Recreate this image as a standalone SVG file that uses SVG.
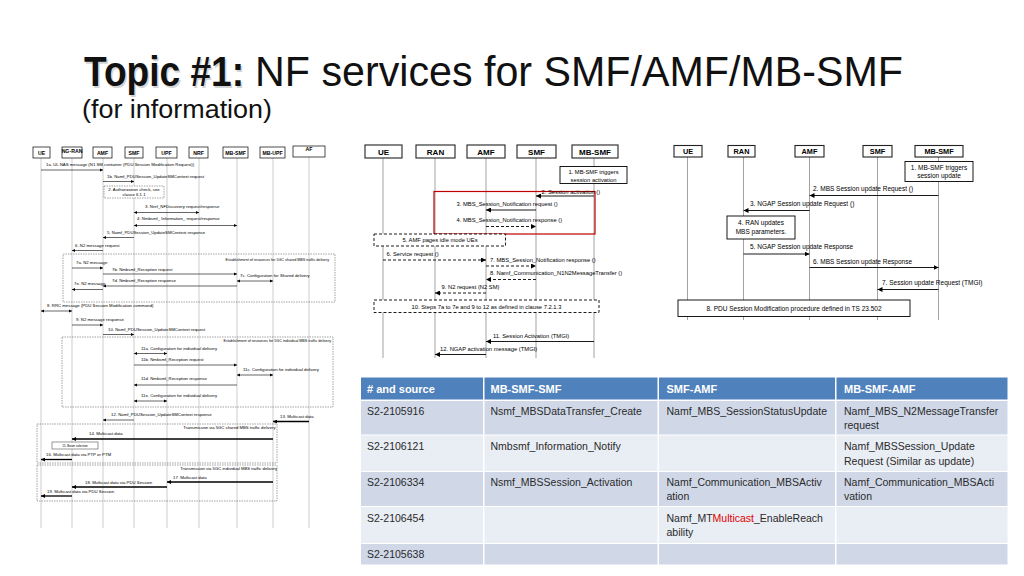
<svg xmlns="http://www.w3.org/2000/svg" width="1024" height="576" viewBox="0 0 1024 576">
<style>
text{font-family:"Liberation Sans",Arial,sans-serif;fill:#000}
.bg{fill:#fff}
.hb{fill:#fff;stroke:#000;stroke-width:0.7}
.hb2{fill:#fff;stroke:#222;stroke-width:1.1}
.ll{stroke:#999;stroke-width:0.5;fill:none}
.ll2{stroke:#999;stroke-width:0.9;fill:none}
.lh{font-size:5.2px;font-weight:bold;text-anchor:middle}
.mh{font-size:8px;font-weight:bold;text-anchor:middle}
.rh{font-size:7.3px;font-weight:bold;text-anchor:middle}
.lt{font-size:4.3px}
.lbl{font-size:3.7px}
.lbl2{font-size:4.2px}
.mt{font-size:5.8px}
.rt{font-size:6.5px}
.c{text-anchor:middle}
.e{text-anchor:end}
.m{stroke:#000;stroke-width:0.6;fill:none;marker-end:url(#as)}
.mb{stroke:#000;stroke-width:0.6;fill:none;marker-end:url(#as);marker-start:url(#as)}
.mk{stroke:#000;stroke-width:1.3;fill:none;marker-end:url(#ak)}
.m2{stroke:#000;stroke-width:0.9;fill:none;marker-end:url(#am)}
.m2d{stroke:#000;stroke-width:0.9;fill:none;stroke-dasharray:3 2;marker-end:url(#am)}
.db{fill:none;stroke:#444;stroke-width:0.5;stroke-dasharray:1.5 1}
.db2{fill:none;stroke:#000;stroke-width:0.9;stroke-dasharray:3 2}
.sb{fill:#fff;stroke:#000;stroke-width:0.9}
.th{fill:#4F81BD}
.td{fill:#D0D8E8}
.tl{fill:#E9EDF4}
.tt{font-size:10.5px;fill:#2a2a2a}
.tht{font-size:11px;font-weight:bold;fill:#fff}
</style>
<defs>
<marker id="as" viewBox="0 0 6 6" refX="6" refY="3" markerWidth="3.4" markerHeight="3.4" markerUnits="userSpaceOnUse" orient="auto-start-reverse"><path d="M0,0L6,3L0,6z" fill="#000"/></marker>
<marker id="ak" viewBox="0 0 6 6" refX="6" refY="3" markerWidth="4" markerHeight="4" markerUnits="userSpaceOnUse" orient="auto-start-reverse"><path d="M0,0L6,3L0,6z" fill="#000"/></marker>
<marker id="am" viewBox="0 0 6 6" refX="6" refY="3" markerWidth="5" markerHeight="5" markerUnits="userSpaceOnUse" orient="auto-start-reverse"><path d="M0,0L6,3L0,6z" fill="#000"/></marker>
</defs>
<rect class="bg" x="0" y="0" width="1024" height="576"/>

<g id="title">
<text x="85.5" y="87.5" font-size="43" font-weight="bold" style="fill:#d4d4d4" textLength="160" lengthAdjust="spacingAndGlyphs">Topic #1:</text>
<text x="84" y="86" font-size="43" font-weight="bold" style="fill:#111" textLength="160" lengthAdjust="spacingAndGlyphs">Topic #1:</text>
<text x="255" y="86" font-size="43" style="fill:#111" textLength="648" lengthAdjust="spacingAndGlyphs">NF services for SMF/AMF/MB-SMF</text>
<text x="82" y="118" font-size="26" style="fill:#111" textLength="190" lengthAdjust="spacingAndGlyphs">(for information)</text>
</g>

<!-- LEFT DIAGRAM -->
<g id="L-UE"><line class="ll" x1="41" y1="158" x2="41" y2="528"/><rect class="hb" x="33" y="147" width="17" height="11"/><text class="lh" x="41.5" y="154.5">UE</text></g>
<g id="L-NGRAN"><line class="ll" x1="72" y1="158" x2="72" y2="528"/><rect class="hb" x="62" y="147" width="20" height="11"/><text class="lh" x="72" y="152.5">NG-RAN</text></g>
<g id="L-AMF"><line class="ll" x1="103" y1="158" x2="103" y2="528"/><rect class="hb" x="93" y="147" width="19" height="11"/><text class="lh" x="102.5" y="154.5">AMF</text></g>
<g id="L-SMF"><line class="ll" x1="134" y1="158" x2="134" y2="528"/><rect class="hb" x="125" y="147" width="18" height="11"/><text class="lh" x="134" y="154.5">SMF</text></g>
<g id="L-UPF"><line class="ll" x1="167" y1="158" x2="167" y2="528"/><rect class="hb" x="156" y="147" width="21" height="11"/><text class="lh" x="166.5" y="154.5">UPF</text></g>
<g id="L-NRF"><line class="ll" x1="199" y1="158" x2="199" y2="528"/><rect class="hb" x="189" y="147" width="19" height="11"/><text class="lh" x="198.5" y="154.5">NRF</text></g>
<g id="L-MBSMF"><line class="ll" x1="237" y1="158" x2="237" y2="528"/><rect class="hb" x="223" y="147" width="25" height="11"/><text class="lh" x="235.5" y="154.5">MB-SMF</text></g>
<g id="L-MBUPF"><line class="ll" x1="273" y1="158" x2="273" y2="528"/><rect class="hb" x="260" y="147" width="25" height="11"/><text class="lh" x="272.5" y="154.5">MB-UPF</text></g>
<g id="L-AF"><line class="ll" x1="309" y1="157" x2="309" y2="528"/><rect class="hb" x="293" y="146" width="32" height="11"/><text class="lh" x="309" y="151">AF</text></g>

<g id="L-box2"><rect class="db" x="104" y="186" width="60" height="12" style="fill:#fff"/><text class="lt c" x="134" y="191">2. Authorization check, see</text><text class="lt c" x="134" y="196.3">clause 6.1.1</text></g>
<g id="L-boxA"><rect class="db" x="63" y="254" width="272" height="48"/><text class="lbl e" x="329" y="260.5">Establishment of resources for 5GC shared MBS traffic delivery</text></g>
<g id="L-boxB"><rect class="db" x="62" y="337" width="271" height="70"/><text class="lbl e" x="331" y="341.5">Establishment of resources for 5GC individual MBS traffic delivery</text></g>
<g id="L-boxC"><rect class="db" x="37" y="424" width="240" height="39"/><text class="lbl2 e" x="275.5" y="428.5">Transmission via 5GC shared MBS traffic delivery</text></g>
<g id="L-box15"><rect x="52" y="442" width="46" height="7" fill="#fff" stroke="#000" stroke-width="0.4"/><text class="c" x="75" y="446.8" font-size="3">15. Beam selection</text></g>
<g id="L-boxD"><rect class="db" x="37" y="465" width="240" height="36"/><text class="lbl2 e" x="277" y="469.5">Transmission via 5GC individual MBS traffic delivery</text></g>

<g id="L-connectors">
<line class="m" x1="41" y1="170" x2="103" y2="170"/><text class="lt" x="46" y="166">1a. UL NAS message (N1 SM container (PDU Session Modification Request))</text>
<line class="m" x1="103" y1="181.5" x2="134" y2="181.5"/><text class="lt" x="107" y="178">1b. Namf_PDUSession_UpdateSMContext request</text>
<line class="mb" x1="134" y1="212.5" x2="199" y2="212.5"/><text class="lt" x="145" y="207.5">3. Nnrf_NFDiscovery request/response</text>
<line class="mb" x1="134" y1="225.5" x2="237" y2="225.5"/><text class="lt" x="137" y="219.5">4. Nmbsmf_ Information_ request/response</text>
<line class="m" x1="134" y1="237.5" x2="103" y2="237.5"/><text class="lt" x="107" y="234">5. Namf_PDUSession_UpdateSMContext response</text>
<line class="m" x1="103" y1="250.5" x2="72" y2="250.5"/><text class="lt" x="75" y="246.5">6. N2 message request</text>
<line class="m" x1="72" y1="268" x2="103" y2="268"/><text class="lt" x="76" y="264">7a. N2 message</text>
<line class="m" x1="103" y1="274" x2="237" y2="274"/><text class="lt" x="112" y="270.5">7b. Nmbsmf_Reception request</text>
<line class="mb" x1="237" y1="281" x2="273" y2="281"/><text class="lt" x="240" y="277">7c. Configuration for Shared delivery</text>
<line class="m" x1="237" y1="286" x2="103" y2="286"/><text class="lt" x="112" y="282">7d. Nmbsmf_Reception response</text>
<line class="m" x1="103" y1="289.5" x2="72" y2="289.5"/><text class="lt" x="74" y="284.5">7e. N2 message</text>
<line class="mb" x1="41" y1="311" x2="72" y2="311"/><text class="lt" x="47" y="307">8. RRC message (PDU Session Modification command)</text>
<line class="m" x1="72" y1="325" x2="103" y2="325"/><text class="lt" x="76" y="321">9. N2 message response</text>
<line class="m" x1="103" y1="334.5" x2="134" y2="334.5"/><text class="lt" x="108" y="330.5">10. Namf_PDUSession_UpdateSMContext request</text>
<line class="mb" x1="134" y1="353.5" x2="167" y2="353.5"/><text class="lt" x="141" y="349.5">11a. Configuration for individual delivery</text>
<line class="m" x1="134" y1="365" x2="237" y2="365"/><text class="lt" x="141" y="360.5">11b. Nmbsmf_Reception request</text>
<line class="mb" x1="237" y1="375" x2="273" y2="375"/><text class="lt" x="243" y="371">11c. Configuration for individual delivery</text>
<line class="m" x1="237" y1="385" x2="134" y2="385"/><text class="lt" x="141" y="380">11d. Nmbsmf_Reception response</text>
<line class="mb" x1="134" y1="401" x2="167" y2="401"/><text class="lt" x="141" y="396.5">11e. Configuration for individual delivery</text>
<line class="m" x1="134" y1="420" x2="103" y2="420"/><text class="lt" x="111" y="416">12. Namf_PDUSession_UpdateSMContext response</text>
<line class="mk" x1="309" y1="421.5" x2="273" y2="421.5"/><text class="lt" x="280" y="418">13. Multicast data</text>
<line class="mk" x1="273" y1="439" x2="72" y2="439"/><text class="lt" x="89" y="435">14. Multicast data</text>
<line class="mk" x1="72" y1="459.5" x2="41" y2="459.5"/><text class="lt" x="46" y="455.5">16. Multicast data via PTP or PTM</text>
<line class="mk" x1="273" y1="482" x2="167" y2="482"/><text class="lt" x="173" y="479">17. Multicast data</text>
<line class="mk" x1="167" y1="487" x2="72" y2="487"/><text class="lt" x="85" y="483.5">18. Multicast data via PDU Session</text>
<line class="mk" x1="72" y1="496" x2="41" y2="496"/><text class="lt" x="47" y="492.5">19. Multicast data via PDU Session</text>
</g>

<!-- MIDDLE DIAGRAM -->
<g id="M-UE"><line class="ll2" x1="383" y1="158" x2="383" y2="358"/><rect class="hb2" x="365" y="145" width="37" height="13"/><text class="mh" x="383.5" y="154.5">UE</text></g>
<g id="M-RAN"><line class="ll2" x1="435" y1="158" x2="435" y2="358"/><rect class="hb2" x="416" y="145" width="39" height="13"/><text class="mh" x="435.5" y="154.5">RAN</text></g>
<g id="M-AMF"><line class="ll2" x1="486" y1="158" x2="486" y2="358"/><rect class="hb2" x="467" y="145" width="38" height="13"/><text class="mh" x="486" y="154.5">AMF</text></g>
<g id="M-SMF"><line class="ll2" x1="536" y1="158" x2="536" y2="358"/><rect class="hb2" x="517" y="145" width="39" height="13"/><text class="mh" x="536.5" y="154.5">SMF</text></g>
<g id="M-MBSMF"><line class="ll2" x1="594" y1="158" x2="594" y2="358"/><rect class="hb2" x="572" y="145" width="46" height="13"/><text class="mh" x="595" y="154.5">MB-SMF</text></g>

<g id="M-box1"><rect class="sb" x="560" y="166.5" width="67" height="17"/><text class="mt c" x="593.5" y="173.5">1. MB-SMF triggers</text><text class="mt c" x="593.5" y="181.5">session activation</text></g>
<g id="M-red"><rect x="434" y="191.5" width="161" height="42.5" fill="none" stroke="#C00000" stroke-width="1.2"/></g>
<g id="M-box5"><rect class="db2" x="374" y="234" width="131.5" height="12" style="fill:#fff"/><text class="mt c" x="440" y="242.3">5. AMF pages idle mode UEs</text></g>
<g id="M-box10"><rect class="db2" x="374" y="300" width="225" height="12.5" style="fill:#fff"/><text class="mt c" x="486.5" y="308.5">10. Steps 7a to 7e and 9 to 12 as defined in clause 7.2.1.3</text></g>

<g id="M-connectors">
<line class="m2" x1="594" y1="196" x2="536" y2="196"/><text class="mt" x="541.5" y="193.5">2. Session activation ()</text>
<line class="m2" x1="536" y1="210" x2="486" y2="210"/><text class="mt" x="456.5" y="205.5">3. MBS_Session_Notification request ()</text>
<line class="m2d" x1="486" y1="226.5" x2="536" y2="226.5"/><text class="mt" x="456.5" y="221.5">4. MBS_Session_Notification response ()</text>
<line class="m2d" x1="383" y1="260" x2="486" y2="260"/><text class="mt" x="386.5" y="255.5">6. Service request ()</text>
<line class="m2d" x1="486" y1="266" x2="536" y2="266"/><text class="mt" x="490" y="262">7. MBS_Session_Notification response ()</text>
<line class="m2d" x1="536" y1="279.5" x2="486" y2="279.5"/><text class="mt" x="490" y="275">8. Namf_Communication_N1N2MessageTransfer ()</text>
<line class="m2d" x1="486" y1="293" x2="435" y2="293"/><text class="mt" x="441.5" y="288.5">9. N2 request (N2 SM)</text>
<line class="m2" x1="594" y1="341.5" x2="486" y2="341.5"/><text class="mt" x="493" y="337.5">11. Session Activation (TMGI)</text>
<line class="m2" x1="486" y1="354.5" x2="435" y2="354.5"/><text class="mt" x="440" y="350.5">12. NGAP activation message (TMGI)</text>
</g>

<!-- RIGHT DIAGRAM -->
<g id="R-UE"><line class="ll2" x1="687.5" y1="157" x2="687.5" y2="320"/><rect class="hb2" x="674" y="145.5" width="28" height="11.5"/><text class="rh" x="688" y="154">UE</text></g>
<g id="R-RAN"><line class="ll2" x1="743.5" y1="157" x2="743.5" y2="320"/><rect class="hb2" x="728" y="145.5" width="27" height="11.5"/><text class="rh" x="741.5" y="154">RAN</text></g>
<g id="R-AMF"><line class="ll2" x1="809.5" y1="157" x2="809.5" y2="320"/><rect class="hb2" x="795" y="145.5" width="29" height="11.5"/><text class="rh" x="809.5" y="154">AMF</text></g>
<g id="R-SMF"><line class="ll2" x1="877.5" y1="157" x2="877.5" y2="320"/><rect class="hb2" x="863" y="145.5" width="29" height="11.5"/><text class="rh" x="877.5" y="154">SMF</text></g>
<g id="R-MBSMF"><line class="ll2" x1="938.5" y1="157" x2="938.5" y2="320"/><rect class="hb2" x="915" y="145.5" width="48" height="11.5"/><text class="rh" x="939" y="154">MB-SMF</text></g>

<g id="R-box1"><rect class="sb" x="905" y="161.5" width="68" height="20"/><text class="rt c" x="939" y="169.5">1. MB-SMF triggers</text><text class="rt c" x="939" y="178.3">session update</text></g>
<g id="R-box4"><rect class="sb" x="727" y="216" width="68" height="23"/><text class="rt c" x="761" y="225">4. RAN updates</text><text class="rt c" x="761" y="234">MBS parameters.</text></g>
<g id="R-box8"><rect class="sb" x="678" y="300" width="232" height="16.5"/><text class="rt c" x="794" y="311">8. PDU Session Modification procedure defined in TS 23.502</text></g>

<g id="R-connectors">
<line class="m2" x1="938.5" y1="195.5" x2="809.5" y2="195.5"/><text class="rt" x="813" y="191">2. MBS Session update Request ()</text>
<line class="m2" x1="809.5" y1="210.5" x2="743.5" y2="210.5"/><text class="rt" x="750" y="206">3. NGAP Session update Request ()</text>
<line class="m2" x1="743.5" y1="254" x2="809.5" y2="254"/><text class="rt" x="750" y="248.5">5. NGAP Session update Response</text>
<line class="m2" x1="809.5" y1="267.5" x2="938.5" y2="267.5"/><text class="rt" x="813" y="263.5">6. MBS Session update Response</text>
<line class="m2" x1="938.5" y1="289.5" x2="877.5" y2="289.5"/><text class="rt" x="882" y="285">7. Session update Request (TMGI)</text>
</g>

<!-- TABLE -->
<g id="table">
<rect class="th" x="361" y="377.5" width="122" height="22"/>
<rect class="th" x="484.5" y="377.5" width="173" height="22"/>
<rect class="th" x="659" y="377.5" width="176" height="22"/>
<rect class="th" x="836.5" y="377.5" width="171" height="22"/>
<rect class="td" x="361" y="401" width="122" height="33.5"/>
<rect class="td" x="484.5" y="401" width="173" height="33.5"/>
<rect class="td" x="659" y="401" width="176" height="33.5"/>
<rect class="td" x="836.5" y="401" width="171" height="33.5"/>
<rect class="tl" x="361" y="435.5" width="122" height="35.5"/>
<rect class="tl" x="484.5" y="435.5" width="173" height="35.5"/>
<rect class="tl" x="659" y="435.5" width="176" height="35.5"/>
<rect class="tl" x="836.5" y="435.5" width="171" height="35.5"/>
<rect class="td" x="361" y="472" width="122" height="34"/>
<rect class="td" x="484.5" y="472" width="173" height="34"/>
<rect class="td" x="659" y="472" width="176" height="34"/>
<rect class="td" x="836.5" y="472" width="171" height="34"/>
<rect class="tl" x="361" y="507" width="122" height="36"/>
<rect class="tl" x="484.5" y="507" width="173" height="36"/>
<rect class="tl" x="659" y="507" width="176" height="36"/>
<rect class="tl" x="836.5" y="507" width="171" height="36"/>
<rect class="td" x="361" y="544" width="122" height="20.5"/>
<rect class="td" x="484.5" y="544" width="173" height="20.5"/>
<rect class="td" x="659" y="544" width="176" height="20.5"/>
<rect class="td" x="836.5" y="544" width="171" height="20.5"/>

<text class="tht" x="367" y="392.5"># and source</text>
<text class="tht" x="490.5" y="392.5">MB-SMF-SMF</text>
<text class="tht" x="666.5" y="392.5">SMF-AMF</text>
<text class="tht" x="844" y="392.5">MB-SMF-AMF</text>

<text class="tt" x="367" y="414.5">S2-2105916</text>
<text class="tt" x="490.5" y="414.5">Nsmf_MBSDataTransfer_Create</text>
<text class="tt" x="666.5" y="414.5">Namf_MBS_SessionStatusUpdate</text>
<text class="tt" x="844" y="414.5">Namf_MBS_N2MessageTransfer</text>
<text class="tt" x="844" y="428.5">request</text>

<text class="tt" x="367" y="450">S2-2106121</text>
<text class="tt" x="490.5" y="450">Nmbsmf_Information_Notify</text>
<text class="tt" x="844" y="450">Namf_MBSSession_Update</text>
<text class="tt" x="844" y="464.5">Request (Similar as update)</text>

<text class="tt" x="367" y="486">S2-2106334</text>
<text class="tt" x="490.5" y="486">Nsmf_MBSSession_Activation</text>
<text class="tt" x="666.5" y="486">Namf_Communication_MBSActiv</text>
<text class="tt" x="666.5" y="500">ation</text>
<text class="tt" x="844" y="486">Namf_Communication_MBSActi</text>
<text class="tt" x="844" y="500">vation</text>

<text class="tt" x="367" y="522">S2-2106454</text>
<text class="tt" x="666.5" y="522">Namf_MT<tspan style="fill:#E00000">Multicast</tspan>_EnableReach</text>
<text class="tt" x="666.5" y="536">ability</text>

<text class="tt" x="367" y="558">S2-2105638</text>
</g>
</svg>
